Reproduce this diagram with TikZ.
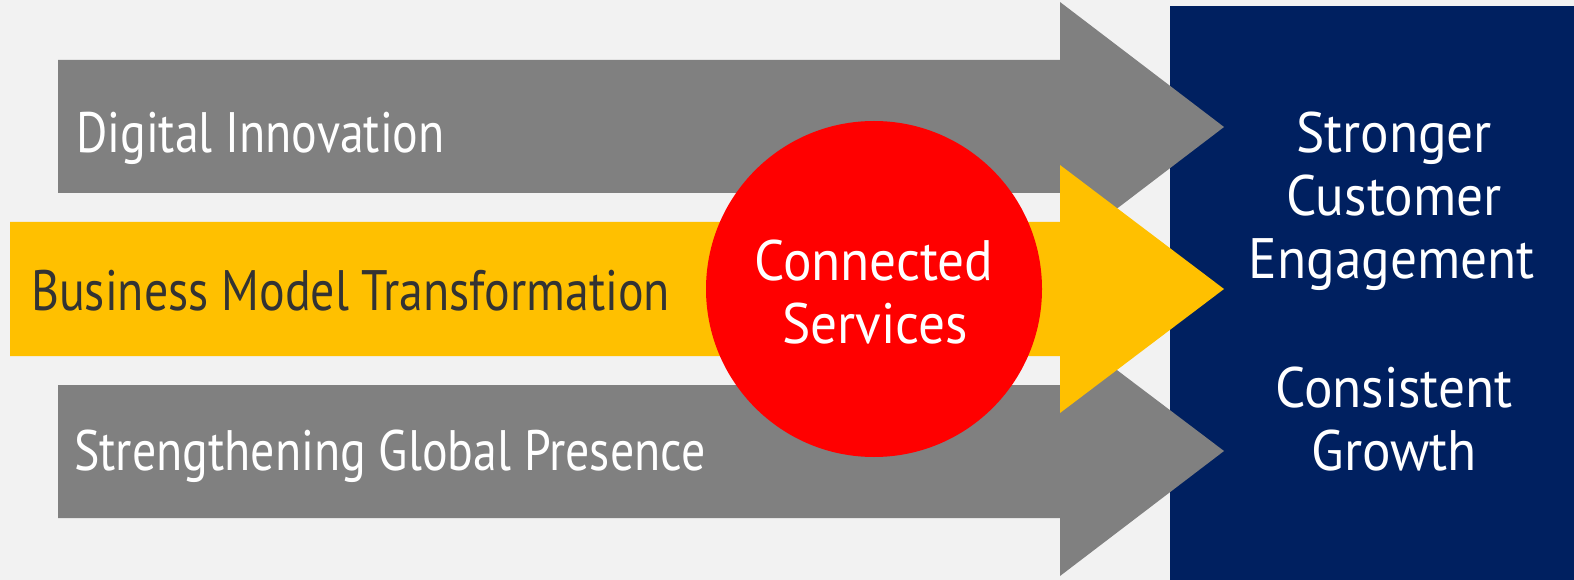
\documentclass[tikz,border=0pt]{standalone}
\usepackage{fontspec}
\newfontfamily\lblfont[FakeStretch=0.84]{PT Sans}
\newfontfamily\wideblfont[FakeStretch=0.935]{PT Sans}
\definecolor{bgc}{HTML}{F2F2F2}
\definecolor{navyc}{HTML}{002060}
\definecolor{grayc}{HTML}{808080}
\definecolor{yellowc}{HTML}{FFC000}
\definecolor{redc}{HTML}{FF0000}
\definecolor{darktxt}{HTML}{333333}
\begin{document}
\begin{tikzpicture}[x=1pt,y=-1pt,
  lbl/.style={inner sep=0pt, font=\lblfont\fontsize{57}{62}\selectfont},
  wlbl/.style={lbl, text=white},
  rlbl/.style={inner sep=0pt, text=white, font=\wideblfont\fontsize{57}{62}\selectfont},
  grayarrow/.style={fill=grayc},
  yelarrow/.style={fill=yellowc}]
\fill[bgc] (0,0) rectangle (1574,580);
\useasboundingbox (0,0) rectangle (1574,580);
% result panel
\fill[navyc] (1170,6) rectangle (1574,580);
% arrows
\fill[grayarrow] (58,60) -- (1060,60) -- (1060,2) -- (1224,127) -- (1060,252) -- (1060,193) -- (58,193) -- cycle;
\fill[grayarrow] (58,385) -- (1060,385) -- (1060,327) -- (1224,451) -- (1060,576) -- (1060,518) -- (58,518) -- cycle;
\fill[yelarrow] (10,222) -- (1060,222) -- (1060,165) -- (1224,289) -- (1060,413) -- (1060,356) -- (10,356) -- cycle;
% circle
\node[circle, fill=redc, minimum size=336pt, inner sep=0pt] (cs) at (874,289) {};
% labels
\node[wlbl, anchor=base west] (di) at (76,153) {Digital Innovation};
\node[lbl, text=darktxt, anchor=base west] (bmt) at (31,310) {Business Model Transformation};
\node[wlbl, anchor=base west] (sgp) at (74,470) {Strengthening Global Presence};
\node[rlbl, anchor=base] (cs1) at (874,280) {Connected};
\node[rlbl, anchor=base] (cs2) at (875,343) {Services};
\node[rlbl, anchor=base] (r1) at (1394,153) {Stronger};
\node[rlbl, anchor=base] (r2) at (1394,215) {Customer};
\node[rlbl, anchor=base] (r3) at (1392,278) {Engagement};
\node[rlbl, anchor=base] (r4) at (1394,407) {Consistent};
\node[rlbl, anchor=base] (r5) at (1394,470) {Growth};
\end{tikzpicture}
\end{document}
